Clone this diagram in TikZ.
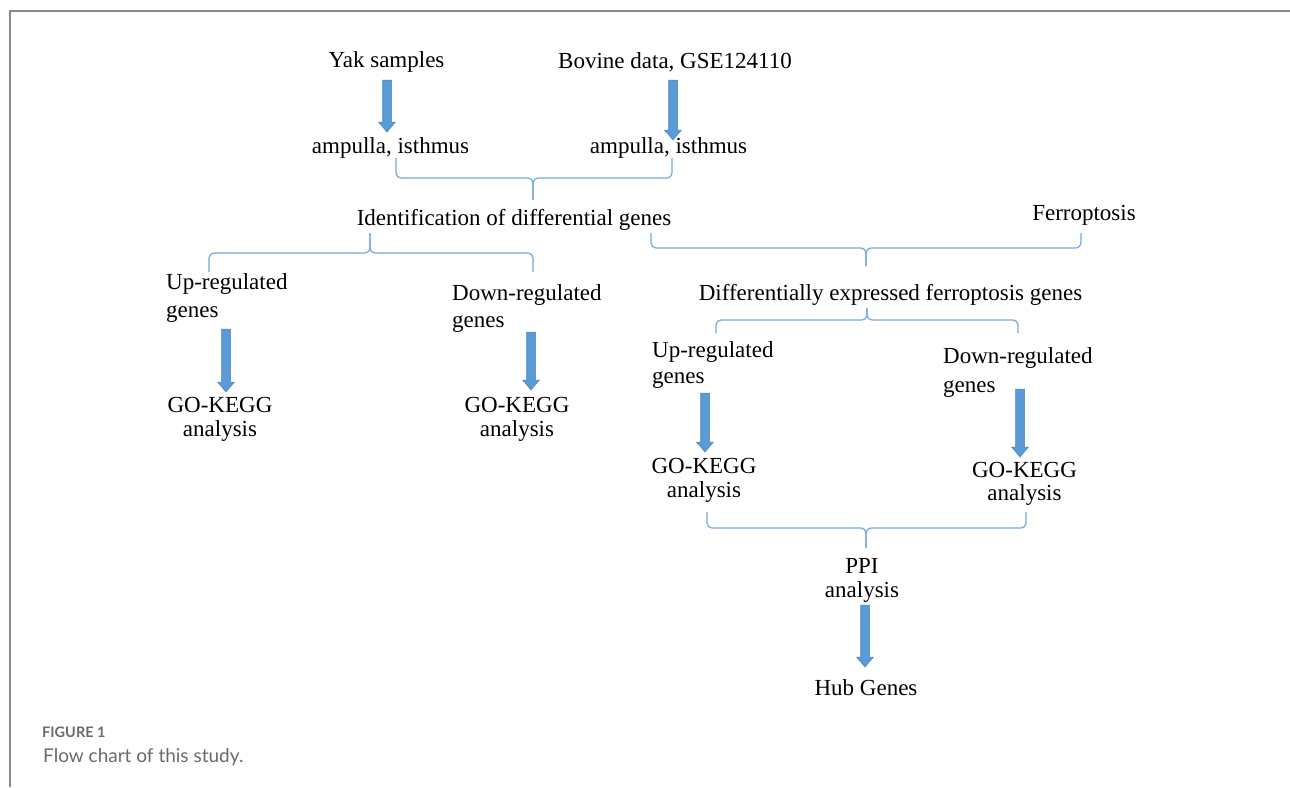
\documentclass[tikz,border=0pt]{standalone}
\usepackage{fontspec}
\setmainfont{Liberation Serif}
\newfontfamily\capfont{Lato}
\usetikzlibrary{calc}
\definecolor{arrowblue}{HTML}{5B9BD5}
\definecolor{arrowedge}{HTML}{4A86C0}
\definecolor{bracecol}{HTML}{74A9DC}
\definecolor{framegray}{HTML}{8A8A8A}
\definecolor{capgray}{HTML}{6B6B6B}
\newcommand\blockarr[2]{\path let \p1=(#1), \p2=(#2) in [fill=arrowblue, draw=arrowedge, line width=0.5pt]
  (\x1-4.5pt,\y1) -- (\x1+4.5pt,\y1) -- (\x1+4.5pt,\y2+10pt) -- (\x1+8.5pt,\y2+10pt) -- (\x1,\y2)
  -- (\x1-8.5pt,\y2+10pt) -- (\x1-4.5pt,\y2+10pt) -- cycle;}
\newcommand\bracket[6]{%
  \draw[bracestyle] (#1,#4) |- (#3,#5) -- (#3,#6);
  \draw[bracestyle] (#2,#4) |- (#3,#5) -- (#3,#6);}
\tikzset{
  txt/.style={inner sep=0pt, font=\fontsize{23}{28}\selectfont},
  bracestyle/.style={draw=bracecol, line width=1.2pt, rounded corners=5pt},
}
\begin{document}
\begin{tikzpicture}[x=1pt,y=-1pt]
\useasboundingbox (0,0) rectangle (1290,787);
\fill[white] (0,0) rectangle (1290,787);
% frame
\draw[framegray, line width=2pt] (1290,10.5) -- (9.5,10.5) -- (9.5,787);

% text nodes
\node[txt, anchor=base] (yak) at (386.5,67) {Yak samples};
\node[txt, anchor=base] (bov) at (675,68) {Bovine data, GSE124110};
\node[txt, anchor=base] (amp1) at (390.5,153) {ampulla, isthmus};
\node[txt, anchor=base] (amp2) at (668.5,153) {ampulla, isthmus};
\node[txt, anchor=base] (ident) at (514,225) {Identification of differential genes};
\node[txt, anchor=base] (ferro) at (1084,220) {Ferroptosis};
\node[txt, anchor=base west] (upL) at (166,289) {\begin{tabular}[t]{@{}l@{}}Up-regulated\\genes\end{tabular}};
\node[txt, anchor=base west] (dnL) at (452,300) {\begin{tabular}[t]{@{}l@{}}Down-regulated\\[-1pt]genes\end{tabular}};
\node[txt, anchor=base] (goL) at (220,412) {\begin{tabular}[t]{@{}c@{}}GO-KEGG\\[-4pt]analysis\end{tabular}};
\node[txt, anchor=base] (goM) at (517,412) {\begin{tabular}[t]{@{}c@{}}GO-KEGG\\[-4pt]analysis\end{tabular}};
\node[txt, anchor=base] (diff) at (890.5,300) {Differentially expressed ferroptosis genes};
\node[txt, anchor=base west] (upR) at (652,357) {\begin{tabular}[t]{@{}l@{}}Up-regulated\\[-2pt]genes\end{tabular}};
\node[txt, anchor=base west] (dnR) at (943,363) {\begin{tabular}[t]{@{}l@{}}Down-regulated\\[1pt]genes\end{tabular}};
\node[txt, anchor=base] (goR1) at (704,473) {\begin{tabular}[t]{@{}c@{}}GO-KEGG\\[-4pt]analysis\end{tabular}};
\node[txt, anchor=base] (goR2) at (1024.5,477) {\begin{tabular}[t]{@{}c@{}}GO-KEGG\\[-5pt]analysis\end{tabular}};
\node[txt, anchor=base] (ppi) at (862,573) {\begin{tabular}[t]{@{}c@{}}PPI\\[-4pt]analysis\end{tabular}};
\node[txt, anchor=base] (hub) at (866,695) {Hub Genes};

% caption
\node[inner sep=0pt, anchor=base west, text=capgray, font=\capfont\bfseries\fontsize{14.5}{17}\selectfont] (figlab) at (42,737) {FIGURE 1};
\node[inner sep=0pt, anchor=base west, text=capgray, font=\capfont\fontsize{19}{22}\selectfont] (figcap) at (43,762) {Flow chart of this study.};

% arrow end points
\coordinate (a1s) at (387,80);   \coordinate (a1e) at (387,132);
\coordinate (a2s) at (673,80);   \coordinate (a2e) at (673,140);
\coordinate (a3s) at (226,329);  \coordinate (a3e) at (226,392);
\coordinate (a4s) at (531,332);  \coordinate (a4e) at (531,390);
\coordinate (a5s) at (705,393);  \coordinate (a5e) at (705,452);
\coordinate (a6s) at (1020,389); \coordinate (a6e) at (1020,457);
\coordinate (a7s) at (865,605);  \coordinate (a7e) at (865,667);
\blockarr{a1s}{a1e}
\blockarr{a2s}{a2e}
\blockarr{a3s}{a3e}
\blockarr{a4s}{a4e}
\blockarr{a5s}{a5e}
\blockarr{a6s}{a6e}
\blockarr{a7s}{a7e}

% braces
\bracket{396}{672}{533}{158}{178}{200}
\bracket{209}{533}{370}{272}{253}{233}
\bracket{651}{1081}{866}{233}{248}{266}
\bracket{716}{1018}{867}{333}{320}{308}
\bracket{707}{1026}{866}{512}{528}{548}
\end{tikzpicture}
\end{document}
